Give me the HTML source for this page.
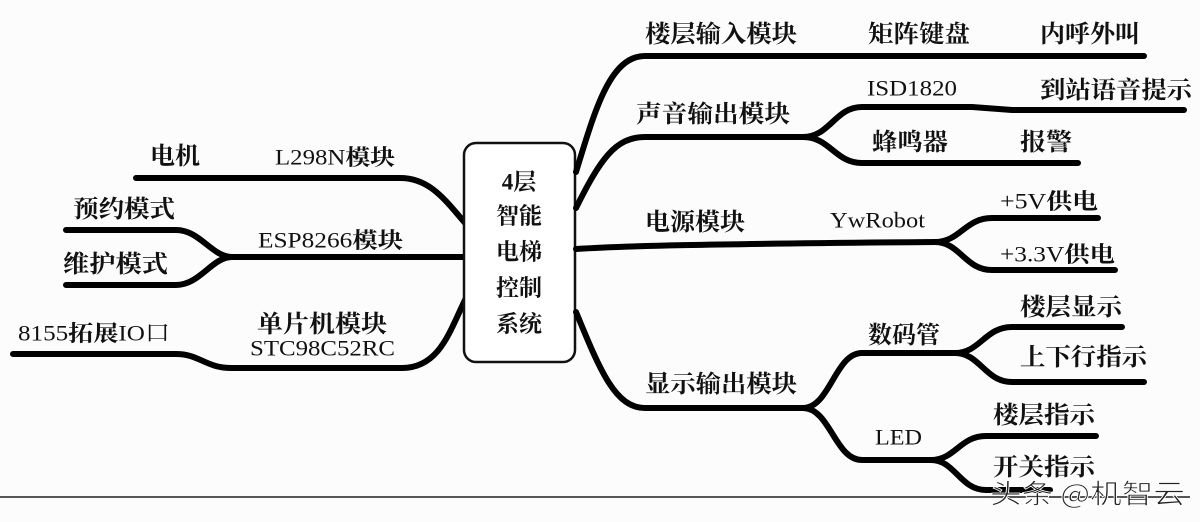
<!DOCTYPE html>
<html><head><meta charset="utf-8"><style>
html,body{margin:0;padding:0;background:#fdfcfd;}
svg{display:block}
.c{font-family:"Liberation Serif","Noto Serif CJK SC","Noto Sans CJK SC",serif;font-size:24px;font-weight:bold;fill:#111;dominant-baseline:central}
.b{font-family:"Liberation Serif","Noto Serif CJK SC","Noto Sans CJK SC",serif;font-size:23px;font-weight:bold;fill:#111;dominant-baseline:central}
.l{font-family:"Liberation Serif","Noto Serif CJK SC",serif;font-size:22px;fill:#111;dominant-baseline:central}
path{fill:none;stroke:#000;stroke-width:6;stroke-linecap:round;stroke-linejoin:round}
</style></head><body>
<svg width="1200" height="522" viewBox="0 0 1200 522" xmlns="http://www.w3.org/2000/svg">
<path d="M136 178 H400 C430 178 445 200 466 224"/>
<path d="M230 257 H466"/>
<path d="M66 230 H176 C200 230 212 257 232 257"/>
<path d="M66 285 H176 C200 285 212 257 232 257"/>
<path d="M13 354 H176 C200 354 205 368 232 368 H402 C440 368 450 330 466 298"/>
<rect x="464" y="143" width="111" height="219" rx="12" ry="12" fill="#fff" stroke="#111" stroke-width="2.5"/>
<text class="b" x="519" y="182" text-anchor="middle">4层</text>
<text class="b" x="519" y="216" text-anchor="middle">智能</text>
<text class="b" x="519" y="252" text-anchor="middle">电梯</text>
<text class="b" x="519" y="288" text-anchor="middle">控制</text>
<text class="b" x="519" y="324" text-anchor="middle">系统</text>
<path d="M576 172 C595 110 610 56 645 56 H1144"/>
<path d="M576 208 C600 160 615 137 645 137 H803"/>
<path d="M803 137 C830 137 835 107 862 107 H972 L1012 110 H1184"/>
<path d="M803 137 C830 137 835 163 862 163 H1078"/>
<path d="M576 249 C620 246 700 244 935 242"/>
<path d="M935 242 C960 242 965 218 992 218 H1098"/>
<path d="M935 242 C960 242 965 270 992 270 H1115"/>
<path d="M576 312 C600 370 615 408 645 408 H803"/>
<path d="M803 408 C830 408 835 353 862 353 H955"/>
<path d="M955 353 C980 353 985 327 1012 327 H1122"/>
<path d="M955 353 C980 353 985 382 1012 382 H1144"/>
<path d="M803 408 C830 408 835 460 862 460 H931"/>
<path d="M931 460 C955 460 960 436 986 436 H1096"/>
<path d="M931 460 C955 460 960 490 986 490 H1050"/>
<line x1="0" y1="497" x2="1190" y2="497" stroke="#555" stroke-width="2"/>
<text class="c" x="150" y="157" textLength="50" lengthAdjust="spacingAndGlyphs">电机</text>
<text class="l" x="275" y="157" textLength="120" lengthAdjust="spacingAndGlyphs">L298N<tspan font-weight="bold">模块</tspan></text>
<text class="c" x="73" y="210" textLength="102" lengthAdjust="spacingAndGlyphs">预约模式</text>
<text class="l" x="258" y="240" textLength="145" lengthAdjust="spacingAndGlyphs">ESP8266<tspan font-weight="bold">模块</tspan></text>
<text class="c" x="63" y="265" textLength="105" lengthAdjust="spacingAndGlyphs">维护模式</text>
<text class="c" x="257" y="325" textLength="130" lengthAdjust="spacingAndGlyphs">单片机模块</text>
<text class="l" x="250" y="348" textLength="145" lengthAdjust="spacingAndGlyphs">STC98C52RC</text>
<text class="l" x="18" y="333" textLength="152" lengthAdjust="spacingAndGlyphs">8155<tspan font-weight="bold">拓展</tspan>IO口</text>
<text class="c" x="645" y="35" textLength="152" lengthAdjust="spacingAndGlyphs">楼层输入模块</text>
<text class="c" x="868" y="35" textLength="102" lengthAdjust="spacingAndGlyphs">矩阵键盘</text>
<text class="c" x="1040" y="35" textLength="100" lengthAdjust="spacingAndGlyphs">内呼外叫</text>
<text class="l" x="867" y="88" textLength="90" lengthAdjust="spacingAndGlyphs">ISD1820</text>
<text class="c" x="1040" y="91" textLength="152" lengthAdjust="spacingAndGlyphs">到站语音提示</text>
<text class="c" x="636" y="115" textLength="154" lengthAdjust="spacingAndGlyphs">声音输出模块</text>
<text class="c" x="872" y="143" textLength="76" lengthAdjust="spacingAndGlyphs">蜂鸣器</text>
<text class="c" x="1020" y="143" textLength="52" lengthAdjust="spacingAndGlyphs">报警</text>
<text class="c" x="645" y="223" textLength="100" lengthAdjust="spacingAndGlyphs">电源模块</text>
<text class="l" x="830" y="220" textLength="95" lengthAdjust="spacingAndGlyphs">YwRobot</text>
<text class="l" x="1000" y="201" textLength="98" lengthAdjust="spacingAndGlyphs">+5V<tspan font-weight="bold">供电</tspan></text>
<text class="l" x="1000" y="254" textLength="115" lengthAdjust="spacingAndGlyphs">+3.3V<tspan font-weight="bold">供电</tspan></text>
<text class="c" x="868" y="336" textLength="72" lengthAdjust="spacingAndGlyphs">数码管</text>
<text class="c" x="1020" y="308" textLength="102" lengthAdjust="spacingAndGlyphs">楼层显示</text>
<text class="c" x="1020" y="358" textLength="127" lengthAdjust="spacingAndGlyphs">上下行指示</text>
<text class="c" x="645" y="385" textLength="152" lengthAdjust="spacingAndGlyphs">显示输出模块</text>
<text class="l" x="875" y="437" textLength="47" lengthAdjust="spacingAndGlyphs">LED</text>
<text class="c" x="993" y="416" textLength="102" lengthAdjust="spacingAndGlyphs">楼层指示</text>
<text class="c" x="993" y="468" textLength="102" lengthAdjust="spacingAndGlyphs">开关指示</text>
<text x="990" y="492" font-family="'Noto Sans CJK SC',sans-serif" font-size="27" fill="#222" stroke="#fff" stroke-width="0.8" dominant-baseline="central" textLength="195" lengthAdjust="spacingAndGlyphs">头条 @机智云</text>
</svg>
</body></html>
